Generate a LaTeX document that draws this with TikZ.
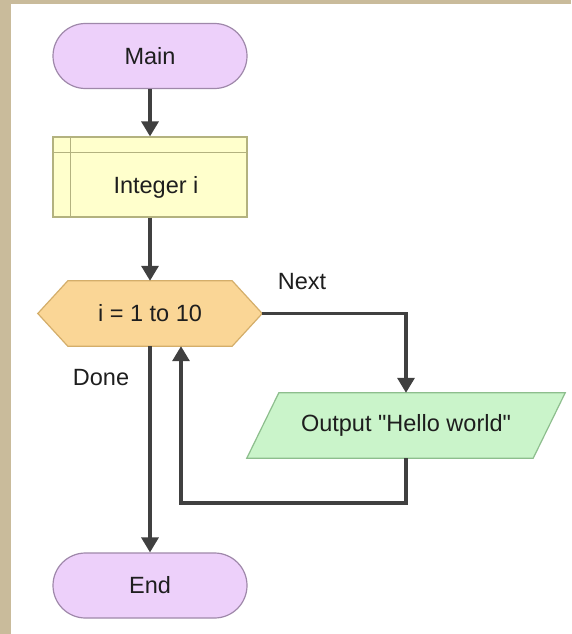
\documentclass[tikz,border=0pt]{standalone}
\usepackage{fontspec}
\setmainfont{Liberation Sans}
\usetikzlibrary{arrows.meta,backgrounds}

\definecolor{tanedge}{HTML}{C9BB9B}
\definecolor{termfill}{HTML}{EDD0FA}
\definecolor{termline}{HTML}{9F88AA}
\definecolor{declfill}{HTML}{FFFFCC}
\definecolor{declline}{HTML}{B3B27F}
\definecolor{loopfill}{HTML}{FAD696}
\definecolor{loopline}{HTML}{D4AE6A}
\definecolor{iofill}{HTML}{CAF4CA}
\definecolor{ioline}{HTML}{8DBE8D}
\definecolor{flowline}{HTML}{404040}
\definecolor{inktext}{HTML}{1E1E1E}

\tikzset{
  every node/.style={font=\fontsize{23.5}{27}\selectfont, text=inktext},
  terminal/.style={draw=termline, fill=termfill, line width=1.2pt,
    rounded corners=32.5pt, minimum width=194pt, minimum height=65pt, inner sep=0pt},
  declbox/.style={draw=declline, fill=declfill, line width=1.2pt,
    minimum width=194pt, minimum height=80pt, inner sep=0pt},
  hexbox/.style={minimum width=224pt, minimum height=65pt, inner sep=0pt},
  iobox/.style={minimum width=318pt, minimum height=65pt, inner sep=0pt},
  hexshape/.style={draw=loopline, fill=loopfill, line width=1.2pt},
  ioshape/.style={draw=ioline, fill=iofill, line width=1.2pt},
  flow/.style={draw=flowline, line width=3.3pt,
    -{Triangle[width=17pt,length=15pt]}},
  tag/.style={inner sep=0pt}
}

\begin{document}
\begin{tikzpicture}[x=1pt, y=-1pt]
  \useasboundingbox (0,0) rectangle (571,634);

  % nodes
  \node[terminal] (main) at (150,56) {Main};
  \node[declbox] (decl) at (150,177) {};
  \draw[declline, line width=1.2pt] ([yshift=-16pt]decl.north west) -- ([yshift=-16pt]decl.north east);
  \draw[declline, line width=1.2pt] ([xshift=18pt]decl.north west) -- ([xshift=18pt]decl.south west);
  \node[tag] (decltext) at (156,187) {Integer i};

  \node[hexbox] (loop) at (150,313.5) {i = 1 to 10};
  \node[iobox] (out) at (406,425.5) {Output \textquotedbl Hello world\textquotedbl};
  \node[terminal] (stop) at (150,585.5) {End};

  % page, tan frame, and the shapes behind the loop and output texts
  \begin{scope}[on background layer]
    \fill[white] (0,0) rectangle (571,634);
    \fill[tanedge] (0,0) rectangle (571,4);
    \fill[tanedge] (0,0) rectangle (11,634);
    \draw[hexshape] (loop.west) -- ([xshift=30pt]loop.north west)
      -- ([xshift=-30pt]loop.north east) -- (loop.east)
      -- ([xshift=-30pt]loop.south east) -- ([xshift=30pt]loop.south west) -- cycle;
    \draw[ioshape] (out.south west) -- ([xshift=-32pt]out.south east)
      -- (out.north east) -- ([xshift=32pt]out.north west) -- cycle;
  \end{scope}

  % connectors
  \draw[flow] (main.south) -- (decl.north);
  \draw[flow] (decl.south) -- (loop.north);
  \draw[flow] (loop.east) -| (out.north);
  \draw[flow] (loop.south) -- (stop.north);
  \coordinate (back) at (181,503);
  \draw[flow] (out.south) |- (back) -- (back |- loop.south);

  % branch labels
  \node[tag] (nextlbl) at (302,282) {Next};
  \node[tag] (donelbl) at (101,378) {Done};
\end{tikzpicture}
\end{document}
